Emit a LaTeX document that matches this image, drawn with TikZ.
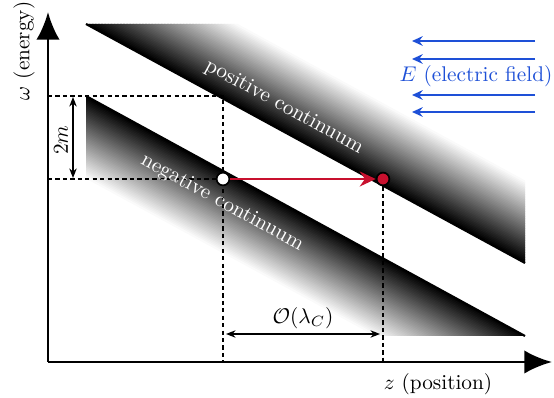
\documentclass[tikz,border=0pt]{standalone}
\usetikzlibrary{arrows.meta}
\definecolor{efield}{RGB}{30,80,215}
\definecolor{pairred}{RGB}{200,16,46}
\begin{document}
\begin{tikzpicture}[x=0.47pt,y=-0.47pt,
  axis/.style={line width=1.4pt,-{Latex[length=13pt,width=11pt]}},
  edgeline/.style={line width=1pt},
  guide/.style={line width=0.5pt,dash pattern=on 2pt off 1.5pt},
  dim/.style={line width=0.6pt,{Stealth[length=4.5pt,width=3.5pt]}-{Stealth[length=4.5pt,width=3.5pt]}},
  field/.style={efield,line width=0.9pt,-{Stealth[length=5pt,width=4.5pt]}},
  bandlabel/.style={white,rotate=-28.57},
  dot/.style={circle,draw,line width=0.8pt,minimum size=6pt,inner sep=0pt}]
\useasboundingbox (0,0) rectangle (554,398);
% key points
\coordinate (O) at (48,362);
\coordinate (ytip) at (48,12);
\coordinate (xtip) at (552,362);
\coordinate (p1) at (86,24);
\coordinate (p2) at (525,263);
\coordinate (n1) at (86,96);
\coordinate (n2) at (525,336);
% positive continuum shading (stripes fading from the edge)
\begin{scope}
  \clip (86,24) -- (525,24) -- (525,263) -- cycle;
  \begin{scope}[shift={(86,24)},rotate=-28.57]
    \foreach \i in {0,...,47}{
      \pgfmathsetmacro{\pa}{\i*1.5}
      \pgfmathsetmacro{\pb}{\i*1.5+2.1}
      \pgfmathsetmacro{\pk}{100-\i*100/48}
      \fill[black!\pk!white] (-30,-\pa) -- (540,-\pa) -- (540,-\pb) -- (-30,-\pb) -- cycle;
    }
  \end{scope}
\end{scope}
% negative continuum shading
\begin{scope}
  \clip (86,96) -- (86,336) -- (525,336) -- cycle;
  \begin{scope}[shift={(86,96)},rotate=-28.57]
    \foreach \i in {0,...,47}{
      \pgfmathsetmacro{\pa}{\i*1.5}
      \pgfmathsetmacro{\pb}{\i*1.5+2.1}
      \pgfmathsetmacro{\pk}{100-\i*100/48}
      \fill[black!\pk!white] (-30,\pa) -- (540,\pa) -- (540,\pb) -- (-30,\pb) -- cycle;
    }
  \end{scope}
\end{scope}
\draw[edgeline] (p1) -- (p2);
\draw[edgeline] (n1) -- (n2);
% guide lines
\coordinate (yhi) at (48,96);
\coordinate (ahi) at (223,96);
\coordinate (abot) at (223,362);
\coordinate (ylo) at (48,179);
\coordinate (wpos) at (223,179);
\coordinate (rpos) at (383,179);
\coordinate (bbot) at (383,362);
\draw[guide] (yhi) -- (ahi) -- (abot);
\draw[guide] (ylo) -- (wpos);
\draw[guide] (rpos) -- (bbot);
\node[dot,fill=white] (wc) at (wpos) {};
\node[dot,fill=pairred] (rc) at (rpos) {};
% axes
\draw[axis] (O) -- (ytip);
\draw[axis] (O) -- (xtip);
\node[rotate=90] (ylab) at (24,51) {$\omega$ (energy)};
\node (xlab) at (438,384) {$z$ (position)};
% band labels
\node[bandlabel] (poslab) at (284,107) {positive continuum};
\node[bandlabel] (neglab) at (222,203) {negative continuum};
% pair creation arrow
\draw[pairred,line width=1.3pt,-{Stealth[length=7.5pt,width=7pt]}] (wc) -- (rc);
% 2m
\coordinate (m1) at (73,97);
\coordinate (m2) at (73,178);
\draw[dim] (m1) -- (m2);
\node[rotate=90] (mlab) at (61,140) {$2m$};
% Compton
\coordinate (c1) at (226,334);
\coordinate (c2) at (380,334);
\draw[dim] (c1) -- (c2);
\node (clab) at (303,318) {$\mathcal{O}(\lambda_C)$};
% electric field
\coordinate (e1s) at (535,41); \coordinate (e1t) at (412,41);
\coordinate (e2s) at (535,59); \coordinate (e2t) at (412,59);
\coordinate (e3s) at (535,95); \coordinate (e3t) at (412,95);
\coordinate (e4s) at (535,112); \coordinate (e4t) at (412,112);
\draw[field] (e1s) -- (e1t);
\draw[field] (e2s) -- (e2t);
\draw[field] (e3s) -- (e3t);
\draw[field] (e4s) -- (e4t);
\node[efield] (elab) at (476,76) {$E$ (electric field)};
\end{tikzpicture}
\end{document}
